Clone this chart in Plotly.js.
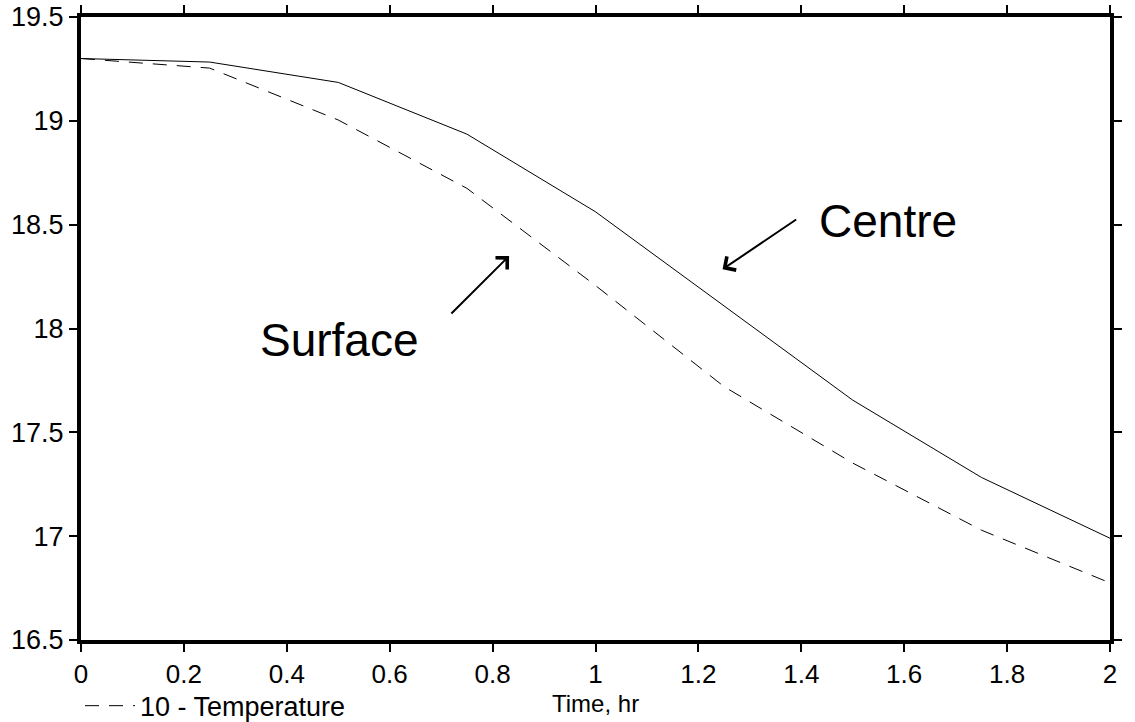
<!DOCTYPE html>
<html>
<head>
<meta charset="utf-8">
<script src="https://cdn.plot.ly/plotly-3.0.1.min.js"></script>
<style>
  html, body { margin: 0; padding: 0; background: #ffffff; }
  #chart { width: 1135px; height: 722px; }
</style>
</head>
<body>
<div id="chart"></div>
<script>
// Cooling curves: temperature against time at the centre and surface
const timeHr = [0, 0.25, 0.5, 0.75, 1.0, 1.25, 1.5, 1.75, 2.0];
const centreTemp = [19.30, 19.283, 19.185, 18.936, 18.562, 18.11, 17.655, 17.283, 16.99];
const surfaceTemp = [19.30, 19.254, 19.004, 18.675, 18.207, 17.72, 17.352, 17.029, 16.775];

const xTicks = [0, 0.2, 0.4, 0.6, 0.8, 1, 1.2, 1.4, 1.6, 1.8, 2];
const yTicks = [16.5, 17, 17.5, 18, 18.5, 19, 19.5];

const FONT = 'Liberation Sans, Arial, sans-serif';

const traces = [
  {
    x: timeHr, y: centreTemp, type: 'scatter', mode: 'lines',
    name: 'Centre', showlegend: false,
    line: { color: '#000000', width: 1 }
  },
  {
    x: timeHr, y: surfaceTemp, type: 'scatter', mode: 'lines',
    name: '10 - Temperature',
    line: { color: '#000000', width: 1, dash: '14px,10px' }
  }
];

const axisCommon = {
  automargin: false,
  showline: true, linecolor: '#000000', linewidth: 4,
  mirror: 'ticks', ticks: 'outside', ticklen: 8, tickwidth: 2, tickcolor: '#000000',
  showgrid: false, zeroline: false
};

const layout = {
  width: 1135, height: 722,
  margin: { l: 81, r: 25, t: 17, b: 82 },
  paper_bgcolor: '#ffffff', plot_bgcolor: '#ffffff',
  xaxis: Object.assign({}, axisCommon, {
    range: [0, 2], tickvals: xTicks, ticktext: xTicks.map(String),
    tickfont: { family: FONT, size: 26, color: '#000000' }
  }),
  yaxis: Object.assign({}, axisCommon, {
    range: [16.5, 19.5], tickvals: yTicks, ticktext: yTicks.map(String),
    tickfont: { family: FONT, size: 27, color: '#000000' }
  }),
  showlegend: true,
  legend: {
    orientation: 'h', xref: 'container', yref: 'container',
    x: 0.0705, xanchor: 'left', y: 0.022, yanchor: 'middle',
    itemwidth: 50,
    font: { family: FONT, size: 27, color: '#000000' },
    bgcolor: 'rgba(0,0,0,0)', borderwidth: 0
  },
  annotations: [
    // x-axis title, set below the tick labels
    { x: 0.5, y: -0.1015, xref: 'paper', yref: 'paper', xanchor: 'center', yanchor: 'middle',
      text: 'Time, hr', showarrow: false, borderpad: 0,
      font: { family: FONT, size: 24, color: '#000000' } },
    { x: 1.569, y: 18.52, xref: 'x', yref: 'y', text: 'Centre', showarrow: false,
      font: { family: FONT, size: 46, color: '#000000' } },
    { x: 0.503, y: 17.947, xref: 'x', yref: 'y', text: 'Surface', showarrow: false,
      font: { family: FONT, size: 46, color: '#000000' } },
    { x: 1.247, y: 18.285, ax: 1.393, ay: 18.53, xref: 'x', yref: 'y', axref: 'x', ayref: 'y',
      text: '', showarrow: true, arrowhead: 4, arrowsize: 1.6, arrowwidth: 2, arrowcolor: '#000000',
      standoff: 0, startstandoff: 0 },
    { x: 0.832, y: 18.349, ax: 0.717, ay: 18.065, xref: 'x', yref: 'y', axref: 'x', ayref: 'y',
      text: '', showarrow: true, arrowhead: 4, arrowsize: 1.6, arrowwidth: 2, arrowcolor: '#000000',
      standoff: 0, startstandoff: 0 }
  ]
};

Plotly.newPlot('chart', traces, layout, { staticPlot: true, displayModeBar: false });
</script>
</body>
</html>
